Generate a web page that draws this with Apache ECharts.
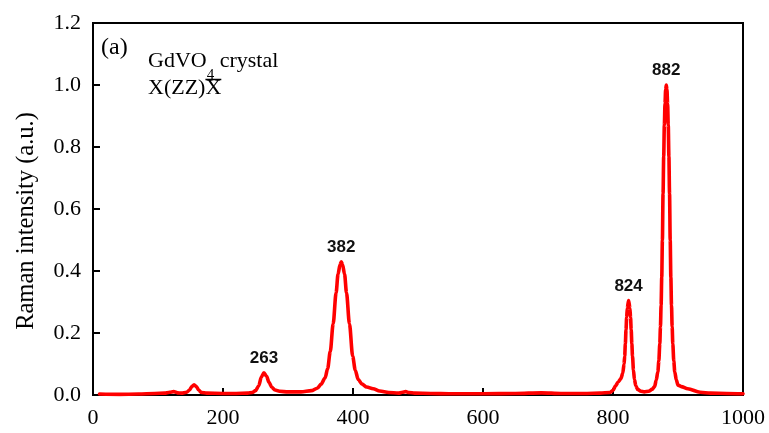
<!DOCTYPE html>
<html>
<head>
<meta charset="utf-8">
<script src="https://cdn.jsdelivr.net/npm/echarts@6/dist/echarts.min.js"></script>
<style>
  html, body { margin: 0; padding: 0; background: #fff; }
  #chart { width: 769px; height: 433px; }
</style>
</head>
<body>
<div id="chart"></div>
<script>
// Raman spectrum of a GdVO4 crystal, X(ZZ)X-bar geometry
const wavenumber = [
  10, 40, 70, 95, 110, 118, 124, 130, 136, 144, 148.5, 152, 155.5, 159, 162.5, 167, 175,
  200, 220, 238, 245, 250, 255, 259, 263, 267, 271, 275, 280, 287, 300,
  320, 336, 345, 351, 357, 361, 365, 369.5, 374, 377, 380, 382, 384, 387, 390, 394.5,
  399.5, 403.5, 408, 414, 421, 431, 441, 455, 470, 476, 481, 486, 495, 520, 550, 600, 650,
  690, 720, 760, 780, 795, 800, 804, 808, 812, 815, 817, 818, 819, 820, 821, 822, 824,
  826, 827, 828, 829, 830, 831.5, 833, 835, 838, 843, 848, 855, 860, 864, 866.5, 869,
  870.5, 872, 873, 874, 875, 876, 877, 878, 879, 880, 881, 882, 883, 884, 885, 886, 887,
  888, 889, 890, 891, 892, 893.5, 895, 897.5, 900, 905, 915, 934, 950, 975, 1000
];
const intensity = [
  0.003, 0.002, 0.003, 0.005, 0.006, 0.009, 0.011, 0.007, 0.006, 0.009, 0.016, 0.027, 0.033, 0.027, 0.016, 0.008, 0.006,
  0.005, 0.005, 0.006, 0.008, 0.014, 0.030, 0.058, 0.072, 0.060, 0.040, 0.025, 0.016, 0.012, 0.010,
  0.010, 0.014, 0.022, 0.035, 0.055, 0.085, 0.140, 0.230, 0.330, 0.390, 0.420, 0.430, 0.420, 0.390, 0.330, 0.230,
  0.125, 0.080, 0.050, 0.035, 0.026, 0.020, 0.013, 0.008, 0.006, 0.009, 0.011, 0.008, 0.006, 0.005, 0.004, 0.004, 0.005,
  0.007, 0.005, 0.005, 0.006, 0.008, 0.015, 0.030, 0.042, 0.052, 0.070, 0.100, 0.125, 0.165, 0.210, 0.250, 0.280, 0.305,
  0.280, 0.250, 0.210, 0.165, 0.125, 0.080, 0.050, 0.030, 0.018, 0.012, 0.010, 0.012, 0.018, 0.027, 0.048, 0.075,
  0.110, 0.165, 0.220, 0.290, 0.380, 0.500, 0.650, 0.770, 0.870, 0.940, 0.985, 1.000, 0.985, 0.940, 0.870, 0.770, 0.650,
  0.500, 0.380, 0.290, 0.220, 0.165, 0.110, 0.075, 0.048, 0.032, 0.027, 0.020, 0.009, 0.006, 0.005, 0.004
];
// Labelled Raman modes (cm-1)
const peakLabels = [263, 382, 824, 882];
// Axis tick labels
const xTickLabels = ['0', '200', '400', '600', '800', '1000'];
const yTickLabels = ['0.0', '0.2', '0.4', '0.6', '0.8', '1.0', '1.2'];

const SERIF = '"Liberation Serif", "Times New Roman", serif';
const SANS = '"Liberation Sans", Arial, sans-serif';

const spectrum = wavenumber.map((w, i) => [w, intensity[i]]);
const modeMarks = peakLabels.map(w => ({
  name: String(w),
  coord: [w, intensity[wavenumber.indexOf(w)]]
}));

// text measuring for the inline annotation (subscript and overbar placement)
const measureCtx = document.createElement('canvas').getContext('2d');
function textWidth(str, font) {
  measureCtx.font = font;
  return measureCtx.measureText(str).width;
}
const mainFont = '22px ' + SERIF;
const subFont = '15px ' + SERIF;
const noteX = 148;
const wGdVO = textWidth('GdVO', mainFont);
const wSub = textWidth('4', subFont);
const wPrefix = textWidth('X(ZZ)', mainFont);
const wX = textWidth('X', mainFont);

const chart = echarts.init(document.getElementById('chart'), null, { renderer: 'canvas' });

chart.setOption({
  animation: false,
  backgroundColor: '#fff',
  grid: {
    left: 93, right: 26, top: 23, bottom: 38,
    show: true, borderColor: '#000', borderWidth: 2, backgroundColor: 'transparent'
  },
  xAxis: {
    type: 'value', min: 0, max: 1000, interval: 200,
    axisLine: { show: true, lineStyle: { color: '#000', width: 2 } },
    axisTick: { show: true, inside: true, length: 7, lineStyle: { color: '#000', width: 2 } },
    axisLabel: {
      color: '#000', fontFamily: SERIF, fontSize: 22, margin: 12,
      formatter: v => xTickLabels[Math.round(v / 200)]
    },
    splitLine: { show: false }
  },
  yAxis: {
    type: 'value', min: 0, max: 1.2, interval: 0.2,
    name: 'Raman intensity (a.u.)', nameLocation: 'middle', nameGap: 54,
    nameTextStyle: { color: '#000', fontFamily: SERIF, fontSize: 24.5, padding: [0, 24, 0, 0] },
    axisLine: { show: true, lineStyle: { color: '#000', width: 2 } },
    axisTick: { show: true, inside: true, length: 7, lineStyle: { color: '#000', width: 2 } },
    axisLabel: {
      color: '#000', fontFamily: SERIF, fontSize: 22, margin: 12,
      formatter: v => yTickLabels[Math.round(v / 0.2)]
    },
    splitLine: { show: false }
  },
  series: [{
    type: 'line',
    data: spectrum,
    showSymbol: false,
    smooth: 0.3,
    smoothMonotone: 'x',
    lineStyle: { color: '#ff0000', width: 3.6, cap: 'round', join: 'round' },
    markPoint: {
      symbol: 'circle',
      symbolSize: 0,
      data: modeMarks,
      label: {
        show: true, position: 'top', distance: 6, formatter: '{b}',
        fontFamily: SANS, fontWeight: 'bold', fontSize: 17, color: '#111'
      }
    }
  }],
  graphic: [
    {
      type: 'text', x: 101, y: 48,
      style: { text: '(a)', font: '24px ' + SERIF, fill: '#000', verticalAlign: 'middle' }
    },
    {
      type: 'text', x: noteX, y: 61,
      style: { text: 'GdVO', font: mainFont, fill: '#000', verticalAlign: 'middle' }
    },
    {
      type: 'text', x: noteX + wGdVO, y: 75,
      style: { text: '4', font: subFont, fill: '#000', verticalAlign: 'middle' }
    },
    {
      type: 'text', x: noteX + wGdVO + wSub, y: 61,
      style: { text: ' crystal', font: mainFont, fill: '#000', verticalAlign: 'middle' }
    },
    {
      type: 'text', x: noteX, y: 88,
      style: { text: 'X(ZZ)X', font: mainFont, fill: '#000', verticalAlign: 'middle' }
    },
    {
      type: 'line',
      shape: { x1: noteX + wPrefix, y1: 79.5, x2: noteX + wPrefix + wX, y2: 79.5 },
      style: { stroke: '#000', lineWidth: 1.5 }
    }
  ]
});
</script>
</body>
</html>
